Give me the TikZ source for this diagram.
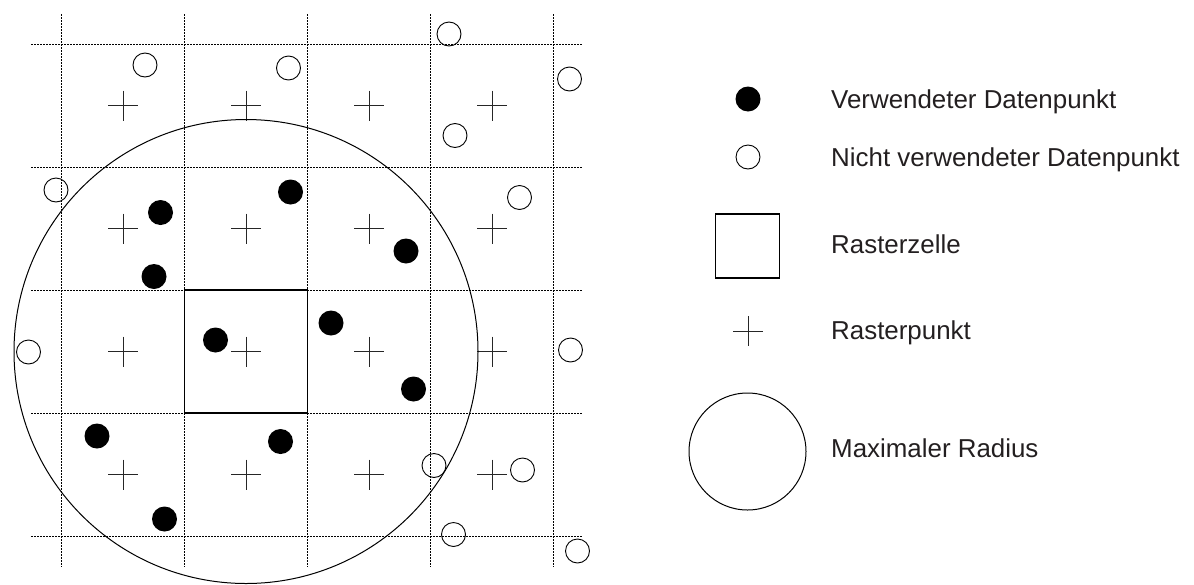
\documentclass[tikz,border=0pt]{standalone}
\usepackage{fontspec}
\setmainfont{Liberation Sans}
\definecolor{txt}{HTML}{231F20}
\begin{document}
\begin{tikzpicture}[x=1pt,y=-1pt,
  gridline/.style={line width=0.9pt, dash pattern=on 1.5pt off 1.5pt},
  used/.style={circle, fill=black, inner sep=0pt, minimum size=25pt},
  unused/.style={circle, draw, line width=0.9pt, inner sep=0pt, minimum size=24pt},
  rpoint/.style={inner sep=0pt, minimum size=30pt,
    path picture={\draw[line width=0.9pt, black!85]
      (path picture bounding box.north) -- (path picture bounding box.south)
      (path picture bounding box.west) -- (path picture bounding box.east);}},
  cellbox/.style={draw, line width=1.8pt, inner sep=0pt},
  radius line/.style={line width=1pt},
  label/.style={anchor=base west, inner sep=0pt, text=txt,
    font=\fontsize{25.9}{31}\selectfont}]
\path[use as bounding box] (0,0) rectangle (1194,584);

% dotted raster lines
\foreach \k in {0,...,4} {
  \draw[gridline] (31,44+123*\k) -- (583,44+123*\k);
  \draw[gridline] (61.5+123*\k,14) -- (61.5+123*\k,567);
}

% raster points (cell centres)
\foreach \i in {1,...,4} {
  \foreach \j in {1,...,4} {
    \node[rpoint] (r\j\i) at (0+123*\i,-17.5+123*\j) {};
  }
}

% search radius around the central raster point and its cell
\draw[radius line] (r32) circle[radius=232];
\node[cellbox, minimum size=123pt] (cell) at (r32) {};

% data points inside the radius
\node[used] (u1)  at (160.5,212.5) {};
\node[used] (u2)  at (290.5,192) {};
\node[used] (u3)  at (406,251) {};
\node[used] (u4)  at (154,276.5) {};
\node[used] (u5)  at (215.5,340) {};
\node[used] (u6)  at (331,323) {};
\node[used] (u7)  at (413.5,389) {};
\node[used] (u8)  at (97,436) {};
\node[used] (u9)  at (280.5,441.5) {};
\node[used] (u10) at (164.5,519) {};

% data points outside the radius
\node[unused] (n1)  at (449,34) {};
\node[unused] (n2)  at (145,65) {};
\node[unused] (n3)  at (288.5,68) {};
\node[unused] (n4)  at (569.5,79) {};
\node[unused] (n5)  at (455,135.5) {};
\node[unused] (n6)  at (56,190) {};
\node[unused] (n7)  at (519.5,197.5) {};
\node[unused] (n8)  at (28.5,352) {};
\node[unused] (n9)  at (570.5,350) {};
\node[unused] (n10) at (434,465.5) {};
\node[unused] (n11) at (522.5,470) {};
\node[unused] (n12) at (453.5,534.5) {};
\node[unused] (n13) at (577.5,551) {};

% legend
\node[used] (lu) at (748,99) {};
\node[label] (tu) at (831,108) {Verwendeter Datenpunkt};
\node[unused] (ln) at (748,157) {};
\node[label] (tn) at (831,166) {Nicht verwendeter Datenpunkt};
\node[cellbox, minimum size=64pt] (lc) at (747.5,246) {};
\node[label] (tc) at (831,253) {Rasterzelle};
\node[rpoint] (lr) at (748,331) {};
\node[label] (tr) at (831,339.5) {Rasterpunkt};
\node[circle, draw, line width=1pt, inner sep=0pt, minimum size=117pt] (lm) at (747.5,451.5) {};
\node[label] (tm) at (831,457) {Maximaler Radius};
\end{tikzpicture}
\end{document}
